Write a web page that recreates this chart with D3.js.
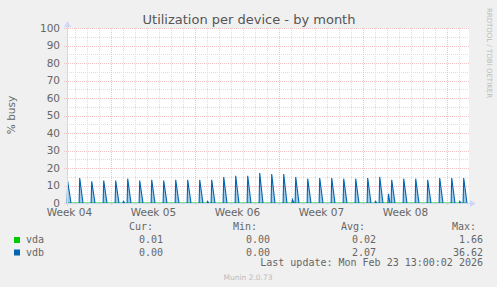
<!DOCTYPE html>
<html>
<head>
<meta charset="utf-8">
<script src="https://cdn.jsdelivr.net/npm/d3@7"></script>
<style>
  body { margin: 0; background: #F0F0F0; }
  svg { display: block; }
</style>
</head>
<body>
<div id="chart"></div>
<script>
// chart values
const title = "Utilization per device - by month";
const yLabel = "% busy";
const yTicks = [0, 10, 20, 30, 40, 50, 60, 70, 80, 90, 100];
const yMinor = [5, 15, 25, 35, 45, 55, 65, 75, 85, 95];
// days counted from the start of Week 05
const weekStarts = [0, 7, 14, 21, 28];
const weekLabels = ["Week 04", "Week 05", "Week 06", "Week 07", "Week 08"];
const weekLabelDays = [-3.5, 3.5, 10.5, 17.5, 24.5];
const dayLines = d3.range(-3, 30);
// vdb: one busy burst per day (08:00), peak % busy
const vdbFirstDay = -3.67;
const vdbPeaks = [12.4, 14.3, 12.4, 12.8, 12.8, 13.9, 12.8, 13.3, 12.8, 13.3,
                  13.3, 13.3, 13.3, 14.9, 15.6, 15.6, 17.1, 16.6, 16.6, 14.9,
                  13.9, 14.3, 14.3, 13.9, 13.9, 14.3, 14.9, 13.3, 13.9, 13.9,
                  13.3, 14.3, 14.3, 14.3];
const vdbBlips = [[0.97, 1.0], [7.98, 1.0], [15.06, 2.0], [21.98, 1.0], [23.06, 5.3], [29.0, 1.0]];
// legend
const legendNames = ["vda", "vdb"];
const legendColors = ["#00CC00", "#0066B3"];
const curVals = ["0.01", "0.00"];
const minVals = ["0.00", "0.00"];
const avgVals = ["0.02", "2.07"];
const maxVals = ["1.66", "36.62"];
const lastUpdate = "Last update: Mon Feb 23 13:00:02 2026";
const version = "Munin 2.0.73";

const W = 497, H = 287;
const x = d3.scaleLinear().domain([-3.7, 29.8]).range([67, 469]);
const y = d3.scaleLinear().domain([0, 100]).range([203, 28]);

const svg = d3.select("#chart").append("svg")
  .attr("width", W).attr("height", H);

svg.append("rect").attr("width", W).attr("height", H).attr("fill", "#F0F0F0");
svg.append("rect")
  .attr("x", x.range()[0]).attr("y", y(100))
  .attr("width", x.range()[1] - x.range()[0]).attr("height", y(0) - y(100))
  .attr("fill", "#FFFFFF");

const sans = "DejaVu Sans, sans-serif";
const mono = "DejaVu Sans Mono, monospace";

// minor grid
const grid = svg.append("g").attr("shape-rendering", "crispEdges");
grid.selectAll(".hmin").data(yMinor).join("line")
  .attr("x1", x.range()[0] - 2).attr("x2", x.range()[1])
  .attr("y1", d => Math.round(y(d)) + 0.5).attr("y2", d => Math.round(y(d)) + 0.5)
  .attr("stroke", "#DEDEDE").attr("stroke-dasharray", "1,1");
grid.selectAll(".vmin").data(dayLines.filter(d => !weekStarts.includes(d))).join("line")
  .attr("x1", d => Math.round(x(d)) + 0.5).attr("x2", d => Math.round(x(d)) + 0.5)
  .attr("y1", y(100)).attr("y2", y(0) + 2)
  .attr("stroke", "#DEDEDE").attr("stroke-dasharray", "1,1");
// major grid
grid.selectAll(".hmaj").data(yTicks).join("line")
  .attr("x1", x.range()[0] - 3).attr("x2", x.range()[1])
  .attr("y1", d => Math.round(y(d)) + 0.5).attr("y2", d => Math.round(y(d)) + 0.5)
  .attr("stroke", "#F2C2C2").attr("stroke-dasharray", "1,1");
grid.selectAll(".vmaj").data(weekStarts).join("line")
  .attr("x1", d => Math.round(x(d)) + 0.5).attr("x2", d => Math.round(x(d)) + 0.5)
  .attr("y1", y(100)).attr("y2", y(0) + 3)
  .attr("stroke", "#F2C2C2").attr("stroke-dasharray", "1,1");

// y tick labels
svg.append("g").selectAll("text").data(yTicks).join("text")
  .attr("x", 60).attr("y", d => y(d) + 3.5)
  .attr("text-anchor", "end")
  .attr("font-family", sans).attr("font-size", 10.5).attr("fill", "#666666")
  .text(d => d);

// x labels
svg.append("g").selectAll("text").data(weekLabels).join("text")
  .attr("x", (d, i) => x(weekLabelDays[i])).attr("y", 216)
  .attr("text-anchor", "middle")
  .attr("font-family", sans).attr("font-size", 10.5).attr("fill", "#666666")
  .text(d => d);

// series: vda stays at zero
const line = d3.line().x(d => x(d[0])).y(d => y(d[1]));
svg.append("path")
  .attr("d", line([[x.domain()[0], 0], [x.domain()[1] - 0.2, 0]]))
  .attr("fill", "none").attr("stroke", legendColors[0]).attr("stroke-width", 1);

// vdb bursts
const spikes = vdbPeaks.map((p, i) => [vdbFirstDay + i, p, 0.3])
  .concat(vdbBlips.map(b => [b[0], b[1], 0.15]));
svg.append("g").selectAll("path").data(spikes).join("path")
  .attr("d", d => line([[d[0] - 0.02, 0], [d[0] + 0.03, d[1]], [d[0] + d[2], 0]]))
  .attr("fill", "#0066B3").attr("fill-opacity", 0.35)
  .attr("stroke", "#0066B3").attr("stroke-width", 1.1);

// axes
const axisCol = "#CFD6F8";
svg.append("line").attr("x1", x.range()[0] - 3).attr("x2", x.range()[1] + 2)
  .attr("y1", y(0) + 0.5).attr("y2", y(0) + 0.5).attr("stroke", axisCol);
svg.append("line").attr("x1", x.range()[0] + 0.5).attr("x2", x.range()[0] + 0.5)
  .attr("y1", y(0) + 3).attr("y2", y(100) - 3).attr("stroke", axisCol);
svg.append("path")
  .attr("d", `M${x.range()[1] + 1},${y(0) - 3} L${x.range()[1] + 7},${y(0) + 0.5} L${x.range()[1] + 1},${y(0) + 4} Z`)
  .attr("fill", axisCol);
svg.append("path")
  .attr("d", `M${x.range()[0] - 3},${y(100) - 1} L${x.range()[0] + 0.5},${y(100) - 7} L${x.range()[0] + 4},${y(100) - 1} Z`)
  .attr("fill", axisCol);

// title and side texts
svg.append("text").attr("x", 249).attr("y", 24).attr("text-anchor", "middle")
  .attr("font-family", sans).attr("font-size", 13).attr("fill", "#555555")
  .text(title);
svg.append("text").attr("transform", "translate(15,115) rotate(-90)")
  .attr("text-anchor", "middle")
  .attr("font-family", sans).attr("font-size", 10.5).attr("fill", "#666666")
  .text(yLabel);
svg.append("text").attr("transform", "translate(487,53) rotate(90)")
  .attr("text-anchor", "middle")
  .attr("font-family", sans).attr("font-size", 7).attr("fill", "#BBBBBB")
  .text("RRDTOOL / TOBI OETIKER");

// legend
const leg = svg.append("g").attr("font-family", mono).attr("font-size", 10).attr("fill", "#666666");
[["Cur:", 153], ["Min:", 257], ["Avg:", 365], ["Max:", 476]].forEach(h => {
  leg.append("text").attr("x", h[1]).attr("y", 230).attr("text-anchor", "end").text(h[0]);
});
legendNames.forEach((n, i) => {
  const yy = 243 + i * 12.5;
  leg.append("rect").attr("x", 14).attr("y", yy - 6).attr("width", 6).attr("height", 6)
    .attr("fill", legendColors[i]);
  leg.append("text").attr("x", 26).attr("y", yy).text(n);
  [[curVals, 163], [minVals, 270], [avgVals, 376], [maxVals, 483]].forEach(c => {
    leg.append("text").attr("x", c[1]).attr("y", yy).attr("text-anchor", "end").text(c[0][i]);
  });
});
leg.append("text").attr("x", 483).attr("y", 266).attr("text-anchor", "end").text(lastUpdate);
svg.append("text").attr("x", 248).attr("y", 280).attr("text-anchor", "middle")
  .attr("font-family", sans).attr("font-size", 7.5).attr("fill", "#BBBBBB")
  .text(version);
</script>
</body>
</html>
